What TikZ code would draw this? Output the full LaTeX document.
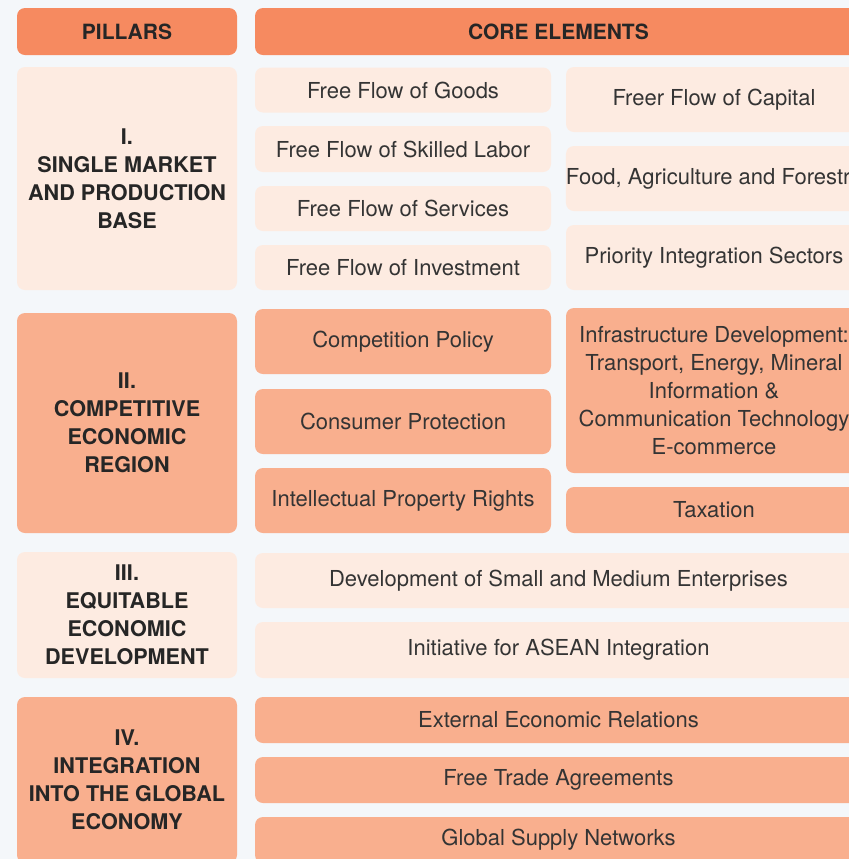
\documentclass[tikz,border=0pt]{standalone}
\usepackage{fontspec}
\setmainfont{TeX Gyre Heros}
\definecolor{PageBg}{RGB}{244, 247, 250}
\definecolor{HeadOrange}{RGB}{246, 138, 96}
\definecolor{LightPeach}{RGB}{253, 235, 225}
\definecolor{Salmon}{RGB}{249, 175, 142}
\definecolor{TextGray}{RGB}{52, 52, 52}
\usetikzlibrary{positioning}

\tikzset{
  cell/.style={rounded corners=4pt, inner sep=0pt, align=center,
    text=TextGray, font=\fontsize{11}{14}\selectfont},
  head/.style={cell, fill=HeadOrange, text=black!85,
    font=\fontsize{10.5}{14}\selectfont\bfseries, minimum height=23.5pt},
  pillar/.style={cell, text=black!85, minimum width=110pt,
    font=\fontsize{10.8}{14}\selectfont\bfseries},
  light/.style={fill=LightPeach},
  dark/.style={fill=Salmon},
  half/.style={cell, minimum width=148pt},
  full/.style={cell, minimum width=303.5pt},
}

\begin{document}
\begin{tikzpicture}[x=0.5pt, y=-0.5pt]
  \clip (0,0) rectangle (849,859);
  \fill[PageBg] (0,0) rectangle (849,859);

  % headers
  \node[head, minimum width=110pt] (hpil) at (127,31.5) {PILLARS};
  \node[head, minimum width=303.5pt] (hcore) at (558.5,31.5) {CORE ELEMENTS};

  % I. single market
  \node[pillar, light, minimum height=111.5pt] (p1) at (127,178.5)
    {I.\\SINGLE MARKET\\AND PRODUCTION\\BASE};
  \node[half, light, minimum height=22.5pt] (goods) at (403,90) {Free Flow of Goods};
  \node[half, light, minimum height=23pt] (labor) at (403,149) {Free Flow of Skilled Labor};
  \node[half, light, minimum height=22.5pt] (serv) at (403,208.5) {Free Flow of Services};
  \node[half, light, minimum height=22.5pt] (invest) at (403,267.5) {Free Flow of Investment};
  \node[half, light, minimum height=32.5pt] (capital) at (714,99.5) {Freer Flow of Capital};
  \node[half, light, minimum height=32.5pt] (food) at (714,178.5) {Food, Agriculture and Forestry};
  \node[half, light, minimum height=32.5pt] (prio) at (714,257.5) {Priority Integration Sectors};

  % II. competitive region
  \node[pillar, dark, minimum height=110pt] (p2) at (127,423)
    {II.\\COMPETITIVE\\ECONOMIC\\REGION};
  \node[half, dark, minimum height=32.5pt] (comp) at (403,341.5) {Competition Policy};
  \node[half, dark, minimum height=32.5pt] (consum) at (403,421.5) {Consumer Protection};
  \node[half, dark, minimum height=32.5pt] (ipr) at (403,500.5) {Intellectual Property Rights};
  \node[half, dark, minimum height=82.5pt] (infra) at (714,390.5)
    {Infrastructure Development:\\Transport, Energy, Mineral\\Information \&\\Communication Technology\\E-commerce};
  \node[half, dark, minimum height=23pt] (tax) at (714,510) {Taxation};

  % III. equitable development
  \node[pillar, light, minimum height=63pt] (p3) at (127,615)
    {III.\\EQUITABLE\\ECONOMIC\\DEVELOPMENT};
  \node[full, light, minimum height=27.5pt] (sme) at (558.5,580.5) {Development of Small and Medium Enterprises};
  \node[full, light, minimum height=28pt] (iai) at (558.5,650) {Initiative for ASEAN Integration};

  % IV. global economy
  \node[pillar, dark, minimum height=83pt] (p4) at (127,780)
    {IV.\\INTEGRATION\\INTO THE GLOBAL\\ECONOMY};
  \node[full, dark, minimum height=23pt] (ext) at (558.5,720) {External Economic Relations};
  \node[full, dark, minimum height=23pt] (fta) at (558.5,780) {Free Trade Agreements};
  \node[full, dark, minimum height=23pt] (gsn) at (558.5,840) {Global Supply Networks};
\end{tikzpicture}
\end{document}
